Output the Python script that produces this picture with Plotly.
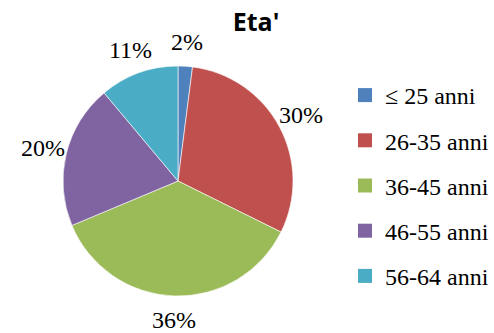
import math
import plotly.graph_objects as go

# Age groups and their share of respondents (%)
categories = ["\u2264 25 anni", "26-35 anni", "36-45 anni", "46-55 anni", "56-64 anni"]
shares = [2, 30, 36, 20, 11]
colors = ["#4F81BD", "#C0504D", "#9BBB59", "#8064A2", "#4BACC6"]

W, H = 494, 333
serif = "Times New Roman, Liberation Serif, serif"

# Pie geometry in pixels
cx, cy, r = 178, 181, 115
label_r = 139

fig = go.Figure()

fig.add_trace(go.Pie(
    labels=categories,
    values=shares,
    sort=False,
    direction="clockwise",
    rotation=0,
    marker=dict(colors=colors, line=dict(color="white", width=0.6)),
    textinfo="none",
    showlegend=False,
    hoverinfo="label+percent",
    domain=dict(x=[(cx - r) / W, (cx + r) / W], y=[1 - (cy + r) / H, 1 - (cy - r) / H]),
))

# Percentage labels placed radially outside each slice, at its mid-angle
total = sum(shares)
cum = 0
annotations = []
for v in shares:
    mid = (cum + v / 2) / total * 2 * math.pi
    cum += v
    px = cx + label_r * math.sin(mid)
    py = cy - label_r * math.cos(mid)
    annotations.append(dict(
        x=px / W, y=1 - py / H, xref="paper", yref="paper",
        text=f"{round(v / total * 100)}%", showarrow=False,
        xanchor="center", yanchor="middle",
        font=dict(family=serif, size=24, color="black"),
    ))

# Legend entries as square markers, one group each so the rows can be spaced
for i, (name, col) in enumerate(zip(categories, colors)):
    fig.add_trace(go.Scatter(
        x=[None], y=[None], mode="markers", name=name,
        marker=dict(symbol="square", size=14, color=col),
        legendgroup=f"g{i}", showlegend=True, hoverinfo="skip",
    ))

fig.update_layout(
    width=W, height=H,
    margin=dict(l=0, r=0, t=0, b=0),
    paper_bgcolor="white", plot_bgcolor="white",
    annotations=annotations,
    title=dict(
        text="<b>Eta'</b>",
        font=dict(family="Open Sans", size=25, color="black"),
        x=256 / W, xanchor="center", xref="paper",
        y=1 - 22 / H, yanchor="middle", yref="container",
    ),
    xaxis=dict(visible=False),
    yaxis=dict(visible=False),
    legend=dict(
        x=345 / W, xanchor="left",
        y=1 - 73 / H, yanchor="top",
        font=dict(family=serif, size=24, color="black"),
        tracegroupgap=11,
        itemclick=False, itemdoubleclick=False,
        bgcolor="rgba(0,0,0,0)",
    ),
)

fig.write_html("out.html")
